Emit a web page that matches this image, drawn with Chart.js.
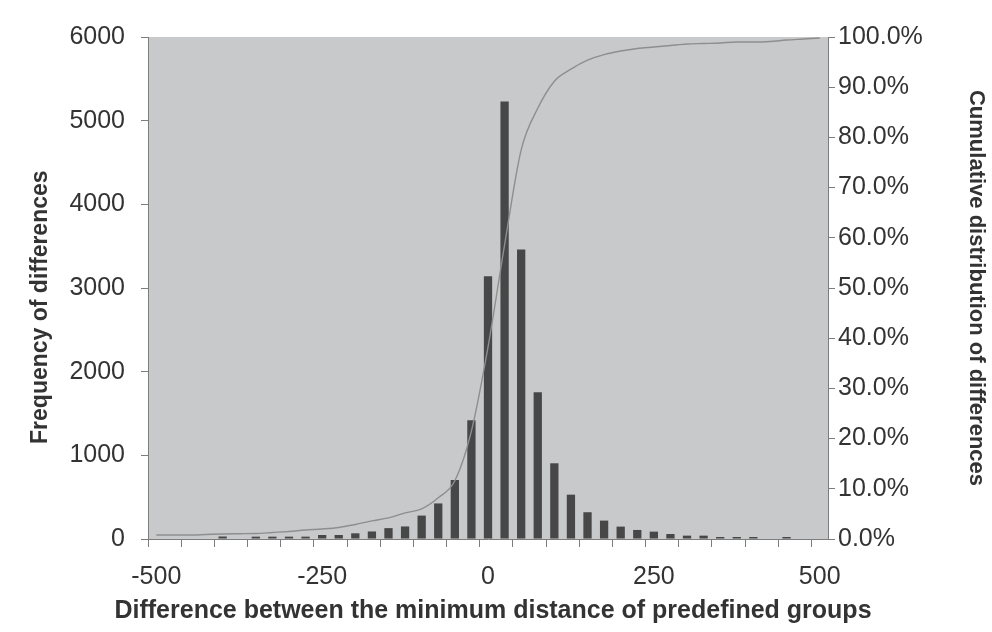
<!DOCTYPE html>
<html>
<head>
<meta charset="utf-8">
<script src="https://cdn.jsdelivr.net/npm/chart.js@4.4.1/dist/chart.umd.min.js"></script>
<style>
  html, body { margin: 0; padding: 0; background: #ffffff; }
  #wrap { width: 992px; height: 632px; }
</style>
</head>
<body>
<div id="wrap"><canvas id="chart" width="992" height="632"></canvas></div>
<script>
// bins of the difference (category axis)
const bins = [
  -500, -475, -450, -425, -400, -375, -350, -325, -300, -275,
  -250, -225, -200, -175, -150, -125, -100, -75, -50, -25,
  0, 25, 50, 75, 100, 125, 150, 175, 200, 225,
  250, 275, 300, 325, 350, 375, 400, 425, 450, 475, 500
];

// frequency of differences (bars, left axis)
const frequency = [
  0, 0, 0, 0, 30, 0, 28, 28, 28, 28,
  48, 48, 68, 90, 130, 150, 280, 425, 705, 1420,
  3140, 5230, 3460, 1755, 905, 530, 320, 220, 148, 108,
  88, 60, 40, 40, 24, 24, 24, 0, 24, 0, 0
];

// cumulative distribution in % (line, right axis)
const cumulative = [
  0.8, 0.8, 0.8, 0.9, 1.0, 1.05, 1.1, 1.3, 1.5, 1.8,
  2.0, 2.3, 2.9, 3.6, 4.2, 5.2, 6.0, 8.2, 11.6, 21.5,
  38.2, 58.6, 77.5, 85.8, 91.2, 93.6, 95.4, 96.5, 97.2, 97.7,
  98.0, 98.3, 98.6, 98.7, 98.8, 99.0, 99.0, 99.1, 99.4, 99.6, 99.8
];

const labeledBins = [-500, -250, 0, 250, 500];
const xTitle = 'Difference between the minimum distance of predefined groups';

const axisGray = '#7d7d7d';
const textColor = '#333333';
const family = 'Liberation Sans, Arial, sans-serif';
const tickFont = { family, size: 25 };

const plotBg = {
  id: 'plotBg',
  beforeDraw(chart) {
    const { ctx, chartArea: a } = chart;
    ctx.save();
    ctx.fillStyle = '#c8c9cb';
    ctx.fillRect(a.left, a.top, a.right - a.left, a.bottom - a.top);
    ctx.restore();
  }
};

// the x title is wider than the plot, so Chart.js would squeeze it; draw it here instead
const xTitlePlugin = {
  id: 'xTitle',
  afterDraw(chart) {
    const { ctx, chartArea: a } = chart;
    ctx.save();
    ctx.font = 'bold 25px ' + family;
    ctx.fillStyle = textColor;
    ctx.textAlign = 'center';
    ctx.textBaseline = 'middle';
    ctx.fillText(xTitle, (a.left + a.right) / 2 + 5, 611);
    ctx.restore();
  }
};

new Chart(document.getElementById('chart'), {
  type: 'bar',
  data: {
    labels: bins,
    datasets: [
      {
        type: 'line',
        data: cumulative,
        yAxisID: 'y1',
        borderColor: '#8e8e8e',
        borderWidth: 1.4,
        pointRadius: 0,
        cubicInterpolationMode: 'monotone',
        order: 0
      },
      {
        type: 'bar',
        data: frequency,
        yAxisID: 'y',
        backgroundColor: '#474747',
        barPercentage: 0.5,
        categoryPercentage: 1.0,
        order: 1
      }
    ]
  },
  plugins: [plotBg, xTitlePlugin],
  options: {
    responsive: false,
    animation: false,
    layout: { padding: { top: 37, left: 0, right: 0, bottom: 0 } },
    plugins: {
      legend: { display: false },
      tooltip: { enabled: false }
    },
    scales: {
      x: {
        afterFit(s) { s.height = 93; },
        grid: {
          offset: true,
          drawOnChartArea: false,
          tickLength: 8,
          color: (c) => (c.index % 2 === 0 ? axisGray : 'rgba(0,0,0,0)')
        },
        border: { display: true, color: axisGray },
        ticks: {
          autoSkip: false,
          maxRotation: 0,
          padding: 15,
          color: textColor,
          font: tickFont,
          callback: (v, i) => (labeledBins.includes(bins[i]) ? String(bins[i]) : '')
        },
        title: { display: false }
      },
      y: {
        position: 'left',
        min: 0,
        max: 6000,
        afterFit(s) { s.width = 148; },
        grid: { drawOnChartArea: false, tickLength: 7, color: axisGray },
        border: { display: true, color: axisGray },
        ticks: {
          stepSize: 1000,
          padding: 16,
          color: textColor,
          font: tickFont,
          callback: (v) => String(v)
        },
        title: {
          display: true,
          // trailing spaces nudge the rotated text a little lower, like the original
          text: 'Frequency of differences      ',
          color: textColor,
          font: { family, size: 23, weight: 'bold' },
          padding: { top: 27, bottom: 0 }
        }
      },
      y1: {
        position: 'right',
        min: 0,
        max: 100,
        afterFit(s) { s.width = 164; },
        grid: { drawOnChartArea: false, tickLength: 7, color: axisGray },
        border: { display: true, color: axisGray },
        ticks: {
          stepSize: 10,
          padding: 3,
          color: textColor,
          font: tickFont,
          callback: (v) => v.toFixed(1) + '%'
        },
        title: {
          display: true,
          text: 'Cumulative distribution of differences',
          color: textColor,
          font: { family, size: 22, weight: 'bold' },
          padding: { top: 3, bottom: 0 }
        }
      }
    }
  }
});
</script>
</body>
</html>
